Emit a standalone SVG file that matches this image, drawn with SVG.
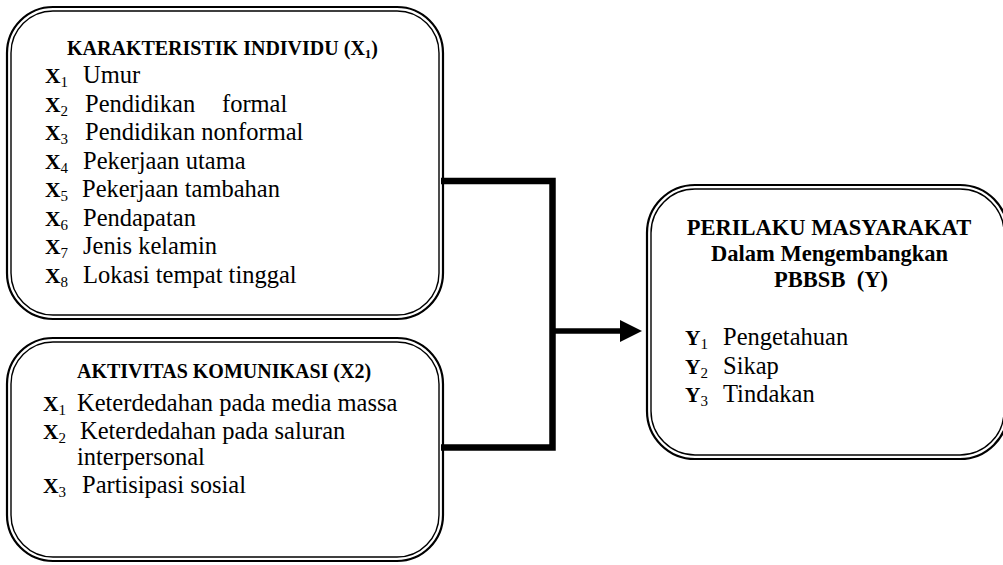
<svg xmlns="http://www.w3.org/2000/svg" width="1003" height="565" viewBox="0 0 1003 565">
<style>
.outer{fill:none;stroke:#000;stroke-width:2.2}
.inner{fill:none;stroke:#000;stroke-width:1.4}
text{font-family:"Liberation Serif","Times New Roman",serif;fill:#000}
.t{font-size:20px;font-weight:bold}
.tr{font-size:22.5px;font-weight:bold}
.i{font-size:24.5px}
.x{font-size:21.5px;font-weight:bold}
.s{font-size:15px}
.conn{fill:none;stroke:#000;stroke-width:6.5;stroke-linejoin:miter}
</style>
<defs>
<marker id="ah" markerUnits="userSpaceOnUse" markerWidth="22" markerHeight="24" refX="1" refY="11" orient="auto">
<path d="M0,0 L22,11 L0,22 z" fill="#000"/>
</marker>
</defs>
<rect width="1003" height="565" fill="#fff"/>

<g id="connectors">
<path class="conn" d="M441,181 H552.5 V447.5 H441"/>
<line x1="552" y1="331" x2="621" y2="331" stroke="#000" stroke-width="5.5" marker-end="url(#ah)"/>
</g>

<g id="karakteristik">
<rect class="outer" x="7" y="7" width="436" height="312" rx="46"/>
<rect class="inner" x="11" y="11" width="428" height="304" rx="42"/>
<text class="t" x="67" y="55">KARAKTERISTIK INDIVIDU (X<tspan font-size="13" dy="3">1</tspan><tspan dy="-3">)</tspan></text>
<text class="i" x="45" y="83"><tspan class="x">X</tspan><tspan class="s" dy="4">1</tspan><tspan x="83" dy="-4">Umur</tspan></text>
<text class="i" x="45" y="111.5"><tspan class="x">X</tspan><tspan class="s" dy="4">2</tspan><tspan x="85" dy="-4">Pendidikan</tspan><tspan x="222">formal</tspan></text>
<text class="i" x="45" y="140"><tspan class="x">X</tspan><tspan class="s" dy="4">3</tspan><tspan x="85" dy="-4">Pendidikan nonformal</tspan></text>
<text class="i" x="45" y="168.5"><tspan class="x">X</tspan><tspan class="s" dy="4">4</tspan><tspan x="83" dy="-4">Pekerjaan utama</tspan></text>
<text class="i" x="45" y="197"><tspan class="x">X</tspan><tspan class="s" dy="4">5</tspan><tspan x="82" dy="-4">Pekerjaan tambahan</tspan></text>
<text class="i" x="45" y="225.5"><tspan class="x">X</tspan><tspan class="s" dy="4">6</tspan><tspan x="83" dy="-4">Pendapatan</tspan></text>
<text class="i" x="45" y="254"><tspan class="x">X</tspan><tspan class="s" dy="4">7</tspan><tspan x="83" dy="-4">Jenis kelamin</tspan></text>
<text class="i" x="45" y="282.5"><tspan class="x">X</tspan><tspan class="s" dy="4">8</tspan><tspan x="83" dy="-4">Lokasi tempat tinggal</tspan></text>
</g>

<g id="aktivitas">
<rect class="outer" x="7" y="338" width="436" height="223" rx="46"/>
<rect class="inner" x="11" y="342" width="428" height="215" rx="42"/>
<text class="t" x="77" y="378">AKTIVITAS KOMUNIKASI (X2)</text>
<text class="i" x="43" y="411"><tspan class="x">X</tspan><tspan class="s" dy="4">1</tspan><tspan x="77" dy="-4">Keterdedahan pada media massa</tspan></text>
<text class="i" x="43" y="438.5"><tspan class="x">X</tspan><tspan class="s" dy="4">2</tspan><tspan x="80" dy="-4">Keterdedahan pada saluran</tspan></text>
<text class="i" x="77" y="465">interpersonal</text>
<text class="i" x="43" y="493"><tspan class="x">X</tspan><tspan class="s" dy="4">3</tspan><tspan x="82" dy="-4">Partisipasi sosial</tspan></text>
</g>

<g id="perilaku">
<rect class="outer" x="647" y="185" width="361" height="274" rx="48"/>
<rect class="inner" x="651" y="189" width="353" height="266" rx="44"/>
<text class="tr" x="829" y="235" text-anchor="middle">PERILAKU MASYARAKAT</text>
<text class="tr" x="829.5" y="261" text-anchor="middle">Dalam Mengembangkan</text>
<text class="tr" x="831" y="287" text-anchor="middle" xml:space="preserve">PBBSB  (Y)</text>
<text class="i" x="685" y="345"><tspan class="x">Y</tspan><tspan class="s" dy="4">1</tspan><tspan x="723" dy="-4">Pengetahuan</tspan></text>
<text class="i" x="685" y="373.5"><tspan class="x">Y</tspan><tspan class="s" dy="4">2</tspan><tspan x="723" dy="-4">Sikap</tspan></text>
<text class="i" x="685" y="402"><tspan class="x">Y</tspan><tspan class="s" dy="4">3</tspan><tspan x="723" dy="-4">Tindakan</tspan></text>
</g>
</svg>
